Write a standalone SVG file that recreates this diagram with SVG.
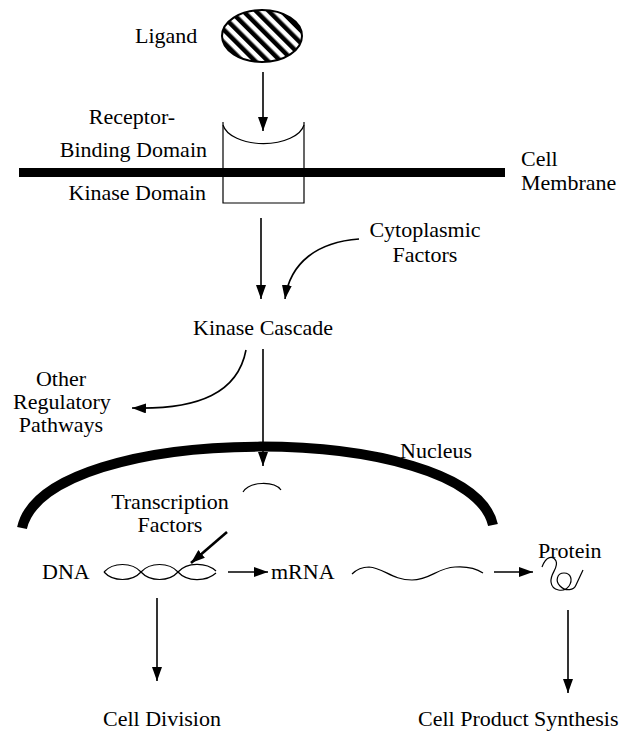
<svg xmlns="http://www.w3.org/2000/svg" width="621" height="731" viewBox="0 0 621 731">
<defs>
<pattern id="hatch" width="9" height="9" patternUnits="userSpaceOnUse" patternTransform="rotate(-45)">
<rect x="0" y="0" width="4.5" height="9" fill="#000"/>
</pattern>
<marker id="ah" markerUnits="userSpaceOnUse" markerWidth="14" markerHeight="10" refX="14" refY="5" orient="auto">
<path d="M0,0 L14,5 L0,10 z" fill="#000"/>
</marker>
</defs>
<style>
text{font-family:"Liberation Serif","Times New Roman",serif;font-size:22px;fill:#000}
.c{text-anchor:middle}
.e{text-anchor:end}
.ln{fill:none;stroke:#000;stroke-width:1.6}
.thick{fill:none;stroke:#000;stroke-width:2.6}
.thin{fill:none;stroke:#000;stroke-width:1.2}
</style>
<rect width="621" height="731" fill="#fff"/>

<g id="ligand">
<ellipse cx="262" cy="36" rx="40" ry="26" fill="url(#hatch)" stroke="#000" stroke-width="2"/>
<text x="135" y="43">Ligand</text>
</g>

<g id="receptor">
<path class="thin" d="M223,122 L223,203 L304,203 L304,122"/>
<path class="thin" d="M223,125 A41,22 0 0 0 304,125" stroke-width="1.6"/>
<text class="c" x="132" y="124">Receptor-</text>
<text class="e" x="207" y="157">Binding Domain</text>
<text class="e" x="206" y="200">Kinase Domain</text>
</g>

<g id="membrane">
<rect x="19" y="168" width="486" height="9" fill="#000"/>
<text x="521" y="166">Cell</text>
<text x="521" y="190">Membrane</text>
</g>

<g id="cytoplasmic">
<text class="c" x="425" y="237">Cytoplasmic</text>
<text class="c" x="425" y="262">Factors</text>
</g>

<g id="kinase-cascade">
<text class="c" x="263" y="335">Kinase Cascade</text>
</g>

<g id="other">
<text class="c" x="61" y="386">Other</text>
<text class="c" x="62" y="409">Regulatory</text>
<text class="c" x="61" y="432">Pathways</text>
</g>

<g id="nucleus">
<path d="M22,528 C46,420 469,420 493,525" fill="none" stroke="#000" stroke-width="10"/>
<text x="400" y="458">Nucleus</text>
</g>

<g id="transcription-factors">
<path class="thin" d="M243,492 C250,481 274,481 281,490"/>
<text class="c" x="170" y="509">Transcription</text>
<text class="c" x="170" y="532">Factors</text>
</g>

<g id="dna">
<text x="42" y="579">DNA</text>
<path class="thin" d="M104,572 C113,562 132,562 141,572 C150,582 169,582 178,572 C187,562 206,562 216,571"/>
<path class="thin" d="M104,572 C113,582 132,582 141,572 C150,562 169,562 178,572 C187,582 206,582 216,573"/>
</g>

<g id="mrna">
<text x="271" y="579">mRNA</text>
<path class="thin" d="M352,574 C357,569 362,567 369,567 C384,568 392,580 412,580 C430,580 437,568 455,567 C468,566 477,569 483,573"/>
</g>

<g id="protein">
<text x="538" y="558">Protein</text>
<path class="thin" d="M542,567 C546,556 553,555 556,561 C559,568 550,573 551,582 C552,591 564,593 569,586 C573,580 571,573 564,573 C557,573 555,581 560,586 C566,592 574,590 576,585 L583,570"/>
</g>

<g id="cell-division">
<text class="c" x="162" y="726">Cell Division</text>
</g>

<g id="cell-product-synthesis">
<text x="418" y="726">Cell Product Synthesis</text>
</g>

<g id="connectors">
<path class="ln" d="M263,72 L263,131" marker-end="url(#ah)"/>
<path class="ln" d="M261,218 L261,299" marker-end="url(#ah)"/>
<path class="ln" d="M359,239 C318,242 290,262 285,299" stroke-width="2" marker-end="url(#ah)"/>
<path class="ln" d="M263,349 L263,466" marker-end="url(#ah)"/>
<path class="ln" d="M246,350 C238,392 200,410 132,408" stroke-width="2" marker-end="url(#ah)"/>
<path class="thick" d="M227,532 L191,563" marker-end="url(#ah)"/>
<path class="ln" d="M228,572 L268,572" stroke-width="2.2" marker-end="url(#ah)"/>
<path class="ln" d="M494,572 L533,572" stroke-width="2.2" marker-end="url(#ah)"/>
<path class="ln" d="M157,598 L157,681" marker-end="url(#ah)"/>
<path class="ln" d="M568,610 L568,693" stroke-width="1.8" marker-end="url(#ah)"/>
</g>
</svg>
